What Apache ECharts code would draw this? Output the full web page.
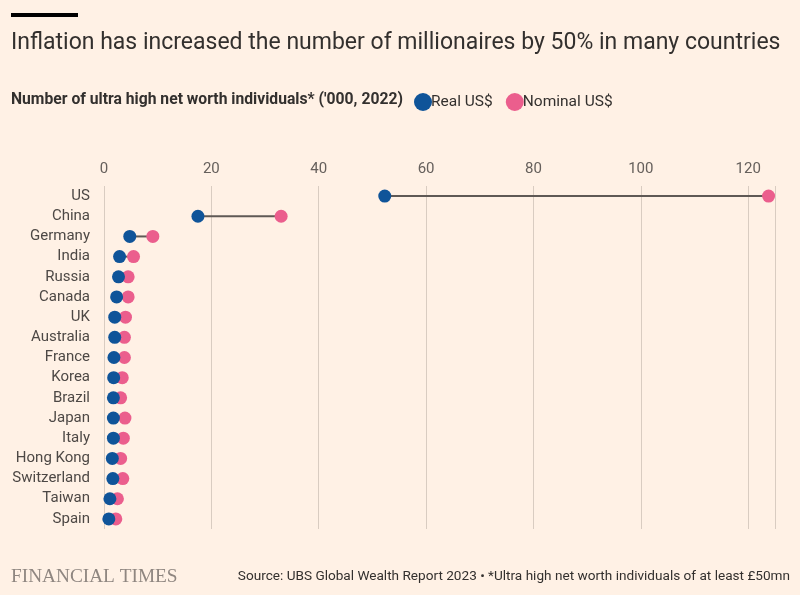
<!DOCTYPE html>
<html><head><meta charset="utf-8">
<script src="https://cdn.jsdelivr.net/npm/echarts@6/dist/echarts.min.js"></script>
<style>html,body{margin:0;padding:0;background:#FFF1E5;}#c{width:800px;height:595px;}</style>
</head><body><div id="c"></div>
<script>
const countries = ['US','China','Germany','India','Russia','Canada','UK','Australia','France','Korea','Brazil','Japan','Italy','Hong Kong','Switzerland','Taiwan','Spain'];
const realUSD = [52.3,17.5,4.8,2.9,2.7,2.35,2.0,2.0,1.85,1.8,1.75,1.75,1.75,1.55,1.65,1.1,0.9];
const nominalUSD = [123.8,33.0,9.1,5.5,4.5,4.5,4.0,3.8,3.8,3.4,3.1,3.9,3.6,3.1,3.5,2.5,2.2];
const xTicks = [0,20,40,60,80,100,120];

const FONT = 'Roboto';
const chart = echarts.init(document.getElementById('c'), null, {renderer:'canvas'});
chart.setOption({
  backgroundColor:'#FFF1E5',
  animation:false,
  textStyle:{fontFamily:FONT},
  graphic:[
    {type:'rect', shape:{x:11,y:13,width:67,height:4}, style:{fill:'#000'}},
    {type:'text', left:11, top:32, style:{text:'Inflation has increased the number of millionaires by 50% in many countries', font:'23px '+FONT, fill:'#33302E'}},
    {type:'text', left:11, top:92, style:{text:"Number of ultra high net worth individuals* ('000, 2022)", font:'bold 15.7px '+FONT, fill:'#33302E'}},
    {type:'text', left:11, top:567, style:{text:'FINANCIAL TIMES', font:'19.3px "Liberation Serif", serif', fill:'#8f8680'}},
    {type:'text', right:10, top:570, style:{text:'Source: UBS Global Wealth Report 2023 • *Ultra high net worth individuals of at least £50mn', font:'13.6px '+FONT, fill:'#33302E'}}
  ],
  legend:{
    left:409, top:88, itemWidth:18, itemHeight:18, itemGap:13, icon:'circle',
    textStyle:{fontSize:15.5, color:'#33302E', fontFamily:FONT, padding:[0,0,0,-6]},
    data:['Real US$','Nominal US$']
  },
  grid:{left:104, right:25, top:186, bottom:66, containLabel:false},
  xAxis:{
    type:'value', position:'top', min:0, max:125, interval:20,
    axisLine:{show:false}, axisTick:{show:false},
    axisLabel:{color:'#66605C', fontSize:15, margin:9, fontFamily:FONT,
      formatter:v=> xTicks.includes(v)? String(v):''},
    splitLine:{lineStyle:{color:'#D9CCC1', width:1}}
  },
  yAxis:{
    type:'category', inverse:true, data:countries,
    axisLine:{show:false}, axisTick:{show:false},
    axisLabel:{color:'#4D4845', fontSize:15, margin:14, fontFamily:FONT},
    splitLine:{show:false}
  },
  series:[
    {type:'custom', name:'link', silent:true, z:1,
     data: countries.map((c,i)=>[i, realUSD[i], nominalUSD[i]]),
     encode:{x:[1,2], y:0},
     renderItem:(params, api)=>{
       const y = api.value(0);
       const p1 = api.coord([api.value(1), y]);
       const p2 = api.coord([api.value(2), y]);
       return {type:'line', shape:{x1:p1[0],y1:p1[1],x2:p2[0],y2:p2[1]}, style:{stroke:'#5F5955', lineWidth:2}};
     }},
    {type:'scatter', name:'Nominal US$', z:3, symbolSize:13, itemStyle:{color:'#EB5E8D', opacity:1},
     data: countries.map((c,i)=>[nominalUSD[i], c])},
    {type:'scatter', name:'Real US$', z:4, symbolSize:13, itemStyle:{color:'#0F5499', opacity:1},
     data: countries.map((c,i)=>[realUSD[i], c])}
  ]
});
</script></body></html>
